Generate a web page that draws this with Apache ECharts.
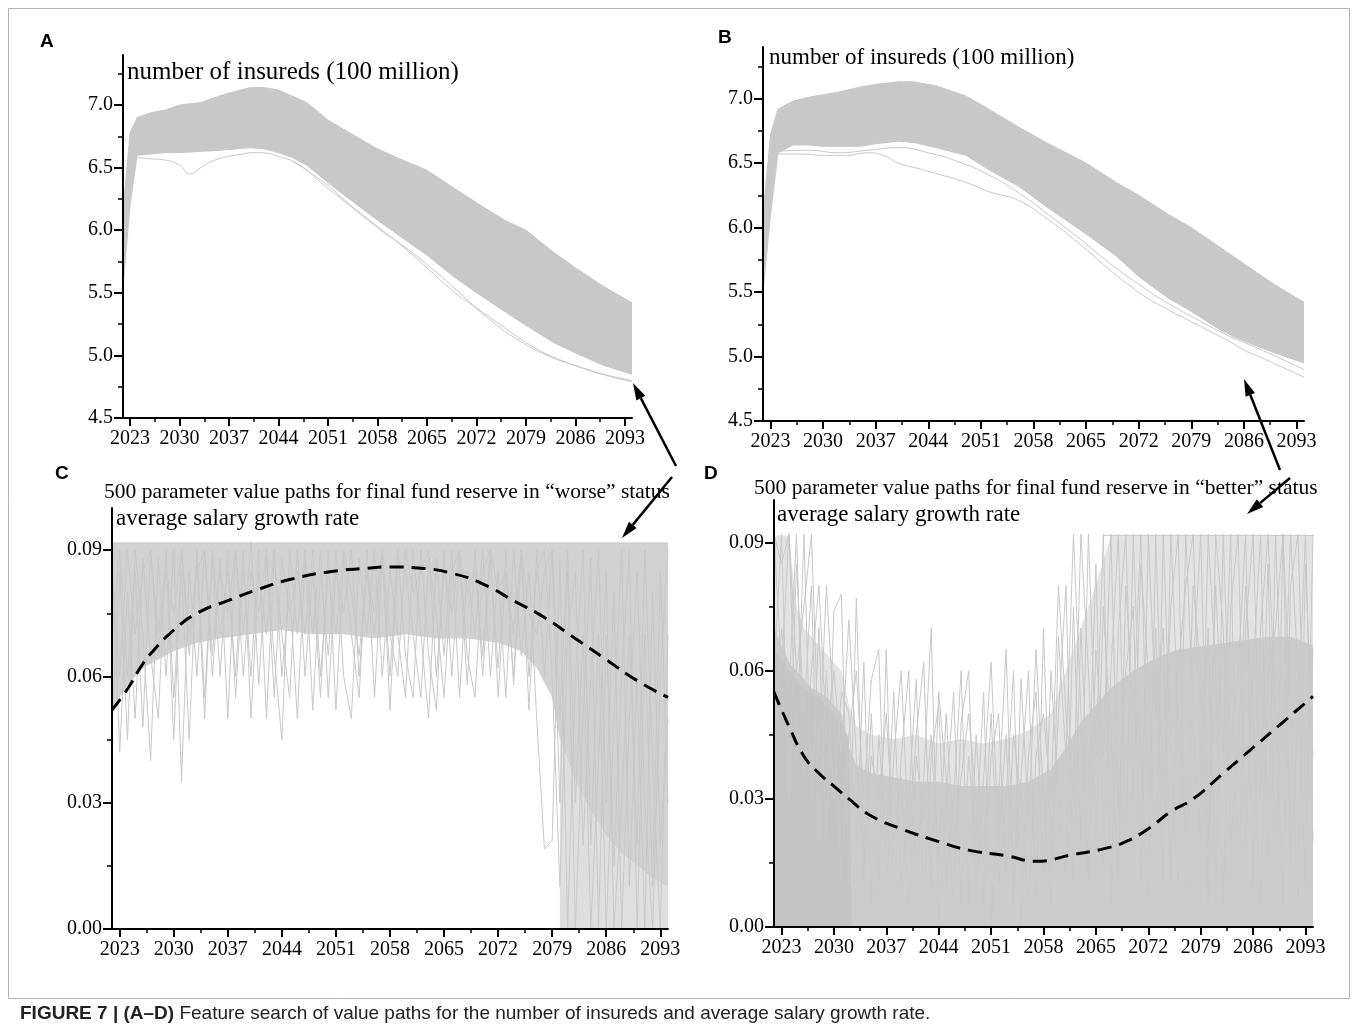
<!DOCTYPE html>
<html>
<head>
<meta charset="utf-8">
<title>Figure 7</title>
<script src="https://cdn.jsdelivr.net/npm/echarts@6.0.0/dist/echarts.min.js"></script>
<style>
html, body { margin: 0; padding: 0; background: #fff; }
#chart { width: 1358px; height: 1033px; }
</style>
</head>
<body>
<div id="chart"></div>
<script>
// ---- tick values ----
var majorYears = [2023, 2030, 2037, 2044, 2051, 2058, 2065, 2072, 2079, 2086, 2093];
var minorYears = [2026.5, 2033.5, 2040.5, 2047.5, 2054.5, 2061.5, 2068.5, 2075.5, 2082.5, 2089.5];
var insTicks = [4.5, 5.0, 5.5, 6.0, 6.5, 7.0];
var insMinor = [4.75, 5.25, 5.75, 6.25, 6.75, 7.25];
var rateTicks = [0, 0.03, 0.06, 0.09];
var rateMinor = [0.015, 0.045, 0.075];

// yearly x positions for the spiky rate paths
var years = [];
for (var yr = 2022; yr <= 2094; yr++) years.push(yr);

// ---- A: number of insureds, "worse" ----
var aYears = [2022, 2023, 2024, 2026, 2028, 2030, 2033, 2036, 2038, 2040, 2042, 2044, 2046, 2048, 2051, 2054, 2058, 2062, 2065, 2069, 2072, 2076, 2079, 2083, 2086, 2090, 2094];
var aUpper = [6.15, 6.78, 6.90, 6.94, 6.96, 7.00, 7.02, 7.08, 7.11, 7.14, 7.14, 7.12, 7.07, 7.02, 6.88, 6.78, 6.65, 6.55, 6.48, 6.33, 6.22, 6.08, 6.00, 5.82, 5.70, 5.55, 5.42];
var aLower = [5.55, 6.20, 6.60, 6.61, 6.62, 6.62, 6.63, 6.64, 6.65, 6.66, 6.65, 6.62, 6.58, 6.52, 6.38, 6.25, 6.08, 5.92, 5.80, 5.62, 5.50, 5.35, 5.24, 5.10, 5.02, 4.92, 4.85];
var aOut1Years = [2024, 2026, 2028, 2030, 2031.5, 2033, 2035, 2038, 2041, 2044, 2047, 2050, 2054, 2058, 2062, 2066, 2070, 2074, 2078, 2082, 2086, 2090, 2094];
var aOut1 = [6.58, 6.57, 6.56, 6.52, 6.45, 6.50, 6.56, 6.60, 6.62, 6.59, 6.52, 6.38, 6.20, 6.02, 5.86, 5.68, 5.48, 5.28, 5.12, 5.00, 4.92, 4.85, 4.80];
var aOut2Years = [2046, 2050, 2054, 2058, 2062, 2065, 2069, 2072, 2076, 2080, 2084, 2088, 2091, 2094];
var aOut2 = [6.55, 6.40, 6.21, 6.03, 5.85, 5.70, 5.50, 5.38, 5.22, 5.07, 4.96, 4.88, 4.83, 4.79];

// ---- B: number of insureds, "better" ----
var bYears = [2022, 2023, 2024, 2026, 2028, 2030, 2032, 2035, 2037, 2040, 2042, 2045, 2049, 2052, 2056, 2060, 2065, 2069, 2072, 2076, 2079, 2083, 2086, 2090, 2094];
var bUpper = [6.10, 6.72, 6.92, 6.98, 7.01, 7.03, 7.05, 7.09, 7.11, 7.13, 7.13, 7.10, 7.02, 6.92, 6.78, 6.65, 6.50, 6.35, 6.25, 6.10, 6.00, 5.84, 5.72, 5.56, 5.42];
var bLower = [5.50, 6.10, 6.58, 6.64, 6.64, 6.63, 6.63, 6.63, 6.65, 6.67, 6.66, 6.62, 6.56, 6.45, 6.32, 6.15, 5.95, 5.78, 5.62, 5.45, 5.35, 5.20, 5.12, 5.03, 4.95];
var bOut1Years = [2024, 2027, 2030, 2033, 2036, 2038, 2040, 2042.5, 2045, 2049, 2052, 2056, 2060, 2064, 2068, 2071, 2073.5, 2076, 2079, 2082, 2084, 2086, 2088, 2091, 2094];
var bOut1 = [6.57, 6.57, 6.56, 6.56, 6.58, 6.56, 6.50, 6.46, 6.42, 6.35, 6.28, 6.21, 6.06, 5.88, 5.68, 5.54, 5.44, 5.36, 5.27, 5.18, 5.12, 5.05, 5.00, 4.92, 4.84];
var bOut2Years = [2024, 2028, 2032, 2036, 2040, 2044, 2048, 2052, 2056, 2060, 2064, 2068, 2072, 2076, 2080, 2084, 2088, 2094];
var bOut2 = [6.59, 6.60, 6.58, 6.60, 6.62, 6.58, 6.51, 6.41, 6.27, 6.10, 5.92, 5.73, 5.56, 5.41, 5.28, 5.16, 5.06, 4.90];

// ---- C: salary growth rate, "worse" ----
var cDenseYears = [2022, 2024, 2026, 2028, 2030, 2033, 2036, 2040, 2044, 2048, 2052, 2056, 2060, 2064, 2068, 2072, 2075, 2077, 2079, 2080, 2082, 2084, 2086, 2088, 2090, 2092, 2094];
var cCap = [0.0917, 0.0917, 0.0917, 0.0917, 0.0917, 0.0917, 0.0917, 0.0917, 0.0917, 0.0917, 0.0917, 0.0917, 0.0917, 0.0917, 0.0917, 0.0917, 0.0917, 0.0917, 0.0917, 0.0917, 0.0917, 0.0917, 0.0917, 0.0917, 0.0917, 0.0917, 0.0917];
var cDenseLow = [0.052, 0.058, 0.062, 0.064, 0.066, 0.068, 0.069, 0.070, 0.071, 0.070, 0.070, 0.069, 0.070, 0.069, 0.069, 0.068, 0.066, 0.062, 0.055, 0.045, 0.035, 0.028, 0.022, 0.018, 0.015, 0.012, 0.010];
var cTailYears = [2080, 2082, 2084, 2086, 2088, 2090, 2092, 2094];
var cTail = [0.045, 0.035, 0.028, 0.022, 0.018, 0.015, 0.012, 0.010];
var cPath1 = [.048,.085,.045,.090,.070,.040,.088,.060,.090,.035,.085,.060,.090,.065,.088,.050,.090,.070,.092,.058,.088,.065,.045,.090,.070,.090,.052,.085,.065,.090,.060,.050,.088,.070,.090,.060,.085,.070,.055,.090,.070,.050,.088,.065,.090,.055,.085,.070,.090,.060,.085,.055,.090,.065,.085,.050,.019,.021,.088,.000,.060,.090,.020,.070,.000,.050,.090,.010,.060,.000,.080,.020,.050];
var cPath2 = [.090,.042,.080,.050,.088,.065,.050,.090,.055,.085,.045,.090,.055,.088,.060,.090,.055,.085,.060,.090,.050,.088,.070,.055,.090,.060,.085,.055,.090,.052,.088,.070,.055,.090,.055,.088,.060,.090,.065,.055,.090,.065,.052,.090,.060,.088,.058,.090,.060,.088,.062,.090,.058,.088,.052,.090,.060,.090,.030,.085,.000,.050,.088,.000,.070,.015,.060,.090,.000,.070,.010,.085,.030];
var cPath3 = [.070,.090,.060,.085,.048,.090,.070,.088,.045,.090,.065,.088,.050,.090,.070,.085,.060,.090,.050,.085,.070,.090,.060,.080,.050,.088,.070,.090,.055,.085,.075,.090,.060,.085,.070,.090,.052,.088,.085,.070,.055,.088,.075,.055,.085,.090,.065,.055,.085,.090,.055,.085,.070,.090,.060,.085,.090,.060,.010,.070,.085,.020,.060,.090,.030,.080,.000,.050,.085,.030,.000,.060,.090];
var cPath4 = [.085,.060,.090,.070,.085,.090,.065,.085,.075,.090,.070,.085,.090,.060,.085,.075,.090,.060,.085,.075,.090,.055,.088,.075,.085,.070,.090,.060,.085,.070,.090,.080,.065,.085,.075,.090,.070,.060,.090,.080,.085,.090,.060,.085,.075,.090,.080,.085,.065,.090,.080,.085,.060,.090,.075,.070,.085,.090,.050,.090,.030,.070,.000,.040,.085,.000,.030,.070,.020,.090,.040,.000,.070];
var cMeanYears = [2022, 2024, 2026, 2027.3, 2030, 2033, 2037, 2041, 2045, 2050, 2055, 2058, 2062, 2066, 2070, 2074, 2078, 2082, 2086, 2090, 2094];
var cMean = [0.052, 0.057, 0.063, 0.066, 0.071, 0.075, 0.078, 0.0807, 0.083, 0.0848, 0.0857, 0.086, 0.0857, 0.0845, 0.082, 0.078, 0.074, 0.069, 0.064, 0.059, 0.055];

// ---- D: salary growth rate, "better" ----
var dYears = [2022, 2023, 2024, 2025, 2026, 2027, 2028, 2029, 2030, 2031, 2032, 2033, 2035, 2038, 2041, 2044, 2047, 2050, 2053, 2056, 2059, 2061, 2063, 2065, 2067, 2070, 2073, 2076, 2080, 2084, 2088, 2091, 2094];
var dLightTop = [0.0917, 0.0917, 0.0917, 0.075, 0.070, 0.068, 0.066, 0.064, 0.062, 0.060, 0.052, 0.047, 0.045, 0.044, 0.045, 0.043, 0.044, 0.043, 0.044, 0.046, 0.050, 0.060, 0.070, 0.080, 0.0917, 0.0917, 0.0917, 0.0917, 0.0917, 0.0917, 0.0917, 0.0917, 0.0917];
var dDenseTop = [0.070, 0.066, 0.062, 0.060, 0.058, 0.056, 0.055, 0.054, 0.052, 0.050, 0.042, 0.038, 0.036, 0.035, 0.034, 0.034, 0.033, 0.033, 0.033, 0.034, 0.037, 0.042, 0.048, 0.052, 0.056, 0.060, 0.063, 0.065, 0.066, 0.067, 0.068, 0.068, 0.066];
var dCoreYears = [2022, 2024, 2026, 2028, 2030, 2031, 2032, 2032.4];
var dCore = [0.065, 0.060, 0.056, 0.054, 0.050, 0.048, 0.044, 0.0];
var dCapYears = [2066, 2070, 2075, 2080, 2085, 2090, 2094];
var dCap = [0.0917, 0.0917, 0.0917, 0.0917, 0.0917, 0.0917, 0.0917];
var dPath1 = [.092,.060,.092,.040,.092,.030,.070,.020,.074,.078,.010,.077,.015,.050,.010,.065,.005,.040,.060,.010,.035,.070,.000,.030,.055,.005,.040,.020,.055,.000,.030,.065,.010,.035,.060,.005,.070,.015,.050,.080,.010,.070,.030,.085,.015,.060,.092,.020,.092,.040,.005,.092,.030,.075,.092,.010,.060,.092,.020,.080,.040,.092,.005,.070,.092,.030,.085,.010,.092,.050,.005,.085,.040];
var dPath2 = [.060,.092,.030,.085,.050,.080,.020,.060,.030,.055,.050,.020,.062,.005,.045,.020,.055,.010,.030,.058,.005,.040,.052,.010,.030,.060,.005,.045,.015,.050,.010,.030,.060,.000,.040,.055,.010,.060,.030,.010,.075,.020,.092,.040,.092,.005,.070,.092,.030,.085,.060,.015,.092,.040,.010,.092,.050,.020,.092,.060,.005,.075,.092,.020,.060,.092,.015,.092,.040,.092,.060,.010,.092];
var dPath3 = [.092,.085,.092,.060,.075,.092,.040,.080,.050,.010,.045,.060,.030,.058,.065,.010,.040,.060,.020,.045,.062,.010,.055,.035,.005,.048,.060,.010,.035,.062,.020,.045,.005,.058,.025,.065,.030,.005,.068,.040,.092,.050,.010,.065,.040,.092,.025,.060,.075,.010,.092,.050,.070,.010,.060,.080,.092,.035,.070,.010,.092,.040,.060,.092,.010,.070,.092,.050,.005,.080,.092,.030,.065];
var dPath4 = [.040,.070,.055,.092,.035,.060,.080,.045,.060,.040,.072,.040,.010,.040,.030,.050,.020,.035,.005,.040,.025,.045,.015,.050,.020,.035,.050,.030,.005,.040,.050,.010,.045,.030,.005,.040,.050,.030,.080,.050,.030,.092,.060,.020,.075,.045,.010,.080,.050,.092,.030,.070,.010,.092,.050,.030,.080,.060,.005,.092,.070,.020,.040,.080,.050,.005,.060,.070,.092,.015,.050,.092,.020];
var dMeanYears = [2022, 2024, 2026, 2028, 2030, 2032, 2035, 2039, 2044, 2048, 2053, 2057, 2062, 2066, 2069, 2072, 2075, 2078, 2082, 2086, 2090, 2094];
var dMean = [0.055, 0.047, 0.040, 0.036, 0.033, 0.030, 0.026, 0.023, 0.020, 0.018, 0.0167, 0.0154, 0.017, 0.0183, 0.020, 0.023, 0.027, 0.030, 0.036, 0.042, 0.048, 0.054];

// ---- helpers ----
var serif = '"Liberation Serif", "Times New Roman", serif';
var sans = '"Liberation Sans", Arial, sans-serif';
var GRAY = '#c8c8c8';

function pairs(xs, ys) {
    var out = [];
    for (var i = 0; i < xs.length; i++) out.push([xs[i], ys[i]]);
    return out;
}

function xAxes(g) {
    return [{
        type: 'value', gridIndex: g, min: 2022, max: 2094, position: 'bottom', z: 5,
        axisLine: { show: true, onZero: false, lineStyle: { color: '#000', width: 2 } },
        axisTick: { show: true, customValues: majorYears, length: 8, lineStyle: { color: '#000', width: 2 } },
        axisLabel: { show: true, customValues: majorYears, margin: 11, color: '#000', fontFamily: serif, fontSize: 20,
            formatter: function (v) { return String(v); } },
        splitLine: { show: false }
    }, {
        type: 'value', gridIndex: g, min: 2022, max: 2094, position: 'bottom', z: 5,
        axisLine: { show: false },
        axisTick: { show: true, customValues: minorYears, length: 4, lineStyle: { color: '#000', width: 1.5 } },
        axisLabel: { show: false },
        splitLine: { show: false }
    }];
}

function yAxes(g, min, max, major, minor, digits) {
    return [{
        type: 'value', gridIndex: g, min: min, max: max, position: 'left', z: 5,
        axisLine: { show: true, onZero: false, lineStyle: { color: '#000', width: 2 } },
        axisTick: { show: true, customValues: major, length: 9, lineStyle: { color: '#000', width: 2 } },
        axisLabel: { show: true, customValues: major, margin: 10, color: '#000', fontFamily: serif, fontSize: 20,
            formatter: function (v) { return v.toFixed(digits); } },
        splitLine: { show: false }
    }, {
        type: 'value', gridIndex: g, min: min, max: max, position: 'left', z: 5,
        axisLine: { show: false },
        axisTick: { show: true, customValues: minor, length: 5, lineStyle: { color: '#000', width: 1.5 } },
        axisLabel: { show: false },
        splitLine: { show: false }
    }];
}

function area(g, xs, ys, fill, edge) {
    return {
        type: 'line', xAxisIndex: 2 * g, yAxisIndex: 2 * g, data: pairs(xs, ys),
        symbol: 'none', silent: true, animation: false,
        lineStyle: edge ? { color: edge, width: 1 } : { opacity: 0 },
        areaStyle: { color: fill, opacity: 1, origin: 'start' }
    };
}

function path(g, xs, ys, smooth) {
    return {
        type: 'line', xAxisIndex: 2 * g, yAxisIndex: 2 * g, data: pairs(xs, ys),
        symbol: 'none', silent: true, animation: false, smooth: smooth || false,
        lineStyle: { color: GRAY, width: 1 }
    };
}

function meanLine(g, xs, ys) {
    return {
        type: 'line', xAxisIndex: 2 * g, yAxisIndex: 2 * g, data: pairs(xs, ys),
        symbol: 'none', silent: true, animation: false, smooth: true, z: 4,
        lineStyle: { color: '#000', width: 3, type: [14, 8] }
    };
}

function arrow(x1, y1, x2, y2) {
    var dx = x2 - x1, dy = y2 - y1, len = Math.sqrt(dx * dx + dy * dy);
    var ux = dx / len, uy = dy / len, hl = 17, hw = 5;
    var bx = x2 - ux * hl, by = y2 - uy * hl;
    return [{
        type: 'line', z: 20, shape: { x1: x1, y1: y1, x2: bx, y2: by },
        style: { stroke: '#000', lineWidth: 2.5 }
    }, {
        type: 'polygon', z: 20,
        shape: { points: [[x2, y2], [bx - uy * hw, by + ux * hw], [bx + uy * hw, by - ux * hw]] },
        style: { fill: '#000' }
    }];
}

function label(x, y, txt, font, weight) {
    return {
        type: 'text', x: x, y: y, z: 20,
        style: { text: txt, fontFamily: font.family, fontSize: font.size, fontWeight: weight || 'normal',
            fill: '#000', textAlign: 'left', align: 'left', textVerticalAlign: 'middle', verticalAlign: 'middle' }
    };
}

var chart = echarts.init(document.getElementById('chart'), null, { renderer: 'canvas' });

var series = [];
// A
series.push(area(0, aYears, aUpper, GRAY, GRAY));
series.push(area(0, aYears, aLower, '#ffffff', GRAY));
series.push(path(0, aOut1Years, aOut1, true));
series.push(path(0, aOut2Years, aOut2, true));
// B
series.push(area(1, bYears, bUpper, GRAY, GRAY));
series.push(area(1, bYears, bLower, '#ffffff', GRAY));
series.push(path(1, bOut1Years, bOut1, true));
series.push(path(1, bOut2Years, bOut2, true));
// C
series.push(area(2, cDenseYears, cCap, '#d2d2d2', GRAY));
series.push(area(2, cDenseYears, cDenseLow, '#ffffff'));
series.push(area(2, cTailYears, cTail, '#dedede'));
series.push(path(2, years, cPath1));
series.push(path(2, years, cPath2));
series.push(path(2, years, cPath3));
series.push(path(2, years, cPath4));
series.push(meanLine(2, cMeanYears, cMean));
// D
series.push(area(3, dYears, dLightTop, '#e3e3e3'));
series.push(area(3, dYears, dDenseTop, '#cbcbcb'));
series.push(area(3, dCoreYears, dCore, '#c4c4c4'));
series.push(path(3, dCapYears, dCap));
series.push(path(3, years, dPath1));
series.push(path(3, years, dPath2));
series.push(path(3, years, dPath3));
series.push(path(3, years, dPath4));
series.push(meanLine(3, dMeanYears, dMean));

var xs = [].concat(xAxes(0), xAxes(1), xAxes(2), xAxes(3));
var ys = [].concat(
    yAxes(0, 4.5, 7.4, insTicks, insMinor, 1),
    yAxes(1, 4.5, 7.4, insTicks, insMinor, 1),
    yAxes(2, 0, 0.1, rateTicks, rateMinor, 2),
    yAxes(3, 0, 0.1, rateTicks, rateMinor, 2)
);

var graphics = [
    { type: 'rect', z: 1, shape: { x: 8.5, y: 8.5, width: 1341, height: 990 },
      style: { fill: 'none', stroke: '#b4b4b4', lineWidth: 1 } },
    label(40, 42, 'A', { family: sans, size: 19 }, 'bold'),
    label(718, 38, 'B', { family: sans, size: 19 }, 'bold'),
    label(55, 474, 'C', { family: sans, size: 19 }, 'bold'),
    label(704, 474, 'D', { family: sans, size: 19 }, 'bold'),
    label(127, 72, 'number of insureds (100 million)', { family: serif, size: 25 }),
    label(769, 58, 'number of insureds (100 million)', { family: serif, size: 23 }),
    label(104, 492, '500 parameter value paths for final fund reserve in \u201cworse\u201d status', { family: serif, size: 21.5 }),
    label(116, 519, 'average salary growth rate', { family: serif, size: 23 }),
    label(754, 488, '500 parameter value paths for final fund reserve in \u201cbetter\u201d status', { family: serif, size: 21.5 }),
    label(777, 515, 'average salary growth rate', { family: serif, size: 23 }),
    {
        type: 'text', x: 20, y: 1014, z: 20,
        style: {
            text: '{b|FIGURE 7 | (A\u2013D)} Feature search of value paths for the number of insureds and average salary growth rate.',
            fontFamily: sans, fontSize: 19, fill: '#222', textVerticalAlign: 'middle', verticalAlign: 'middle',
            rich: { b: { fontFamily: sans, fontSize: 19, fontWeight: 'bold', fill: '#222' } }
        }
    }
].concat(
    arrow(676, 466, 633, 383),
    arrow(1280, 470, 1244, 379),
    arrow(672, 477, 622, 538),
    arrow(1290, 478, 1247, 514)
);

var option = {
    backgroundColor: '#ffffff',
    animation: false,
    grid: [
        { left: 123, top: 55, width: 509, height: 363, outerBoundsMode: 'none' },
        { left: 763, top: 47, width: 541, height: 374, outerBoundsMode: 'none' },
        { left: 112, top: 508, width: 556, height: 421, outerBoundsMode: 'none' },
        { left: 774, top: 500, width: 539, height: 427, outerBoundsMode: 'none' }
    ],
    xAxis: xs,
    yAxis: ys,
    series: series,
    graphic: graphics
};

chart.setOption(option);
</script>
</body>
</html>
